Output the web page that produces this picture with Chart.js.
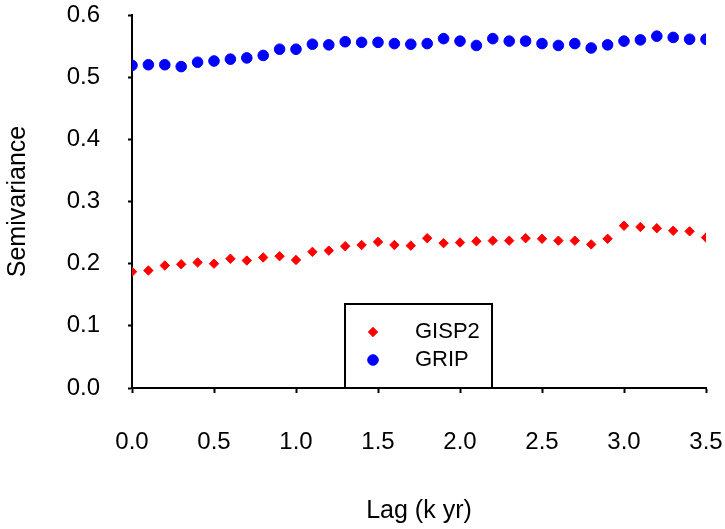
<!DOCTYPE html>
<html>
<head>
<meta charset="utf-8">
<script src="https://cdn.jsdelivr.net/npm/chart.js@4/dist/chart.umd.min.js"></script>
<style>
  html, body { margin: 0; padding: 0; background: #fff; }
  #wrap { width: 725px; height: 529px; }
</style>
</head>
<body>
<div id="wrap"><canvas id="c" width="725" height="529"></canvas></div>
<script>
// Lag in thousands of years
const lag = [0.0, 0.1, 0.2, 0.3, 0.4, 0.5, 0.6, 0.7, 0.8, 0.9,
             1.0, 1.1, 1.2, 1.3, 1.4, 1.5, 1.6, 1.7, 1.8, 1.9,
             2.0, 2.1, 2.2, 2.3, 2.4, 2.5, 2.6, 2.7, 2.8, 2.9,
             3.0, 3.1, 3.2, 3.3, 3.4, 3.5];

// Semivariance of the GISP2 record
const gisp2 = [0.187, 0.189, 0.197, 0.199, 0.202, 0.200, 0.208, 0.205, 0.210, 0.212,
               0.206, 0.219, 0.221, 0.228, 0.230, 0.235, 0.230, 0.229, 0.241, 0.233,
               0.234, 0.236, 0.237, 0.237, 0.241, 0.240, 0.237, 0.237, 0.231, 0.240,
               0.261, 0.259, 0.257, 0.253, 0.252, 0.242];

// Semivariance of the GRIP record
const grip = [0.519, 0.520, 0.520, 0.517, 0.524, 0.526, 0.529, 0.531, 0.535, 0.545,
              0.545, 0.553, 0.552, 0.557, 0.556, 0.556, 0.554, 0.553, 0.554, 0.562,
              0.558, 0.551, 0.562, 0.558, 0.558, 0.554, 0.551, 0.554, 0.547, 0.552,
              0.558, 0.560, 0.566, 0.564, 0.561, 0.561];

const xTickValues = [0.0, 0.5, 1.0, 1.5, 2.0, 2.5, 3.0, 3.5];
const yTickValues = [0.0, 0.1, 0.2, 0.3, 0.4, 0.5, 0.6];

const FONT = '"Liberation Sans", Arial, sans-serif';

const toPoints = (xs, ys) => xs.map((x, i) => ({ x: x, y: ys[i] }));

// Boxed legend sitting on the x axis inside the plot
const boxLegend = {
  id: 'boxLegend',
  afterDraw(chart) {
    const { ctx, chartArea: a } = chart;
    const left = a.left + 213, right = a.left + 360;
    const top = a.top + 289, bottom = a.bottom;
    ctx.save();
    ctx.fillStyle = '#ffffff';
    ctx.fillRect(left, top, right - left, bottom - top);
    ctx.strokeStyle = '#000000';
    ctx.lineWidth = 2;
    ctx.strokeRect(left, top, right - left, bottom - top);
    chart.data.datasets.forEach((ds, i) => {
      const y = top + 28 + i * 28;
      ctx.fillStyle = ds.backgroundColor;
      ctx.strokeStyle = ds.borderColor;
      ctx.lineWidth = ds.borderWidth;
      Chart.helpers.drawPoint(ctx, {
        pointStyle: ds.pointStyle,
        radius: ds.pointRadius,
        rotation: 0,
        borderWidth: ds.borderWidth
      }, left + 28, y);
      ctx.fillStyle = '#000000';
      ctx.font = '22px ' + FONT;
      ctx.textAlign = 'left';
      ctx.textBaseline = 'middle';
      ctx.fillText(ds.label, left + 70, y);
    });
    ctx.restore();
  }
};

new Chart(document.getElementById('c'), {
  type: 'scatter',
  data: {
    datasets: [
      {
        label: 'GISP2',
        data: toPoints(lag, gisp2),
        pointStyle: 'rectRot',
        pointRadius: 4.7,
        borderWidth: 1,
        backgroundColor: '#ff0000',
        borderColor: '#ff0000',
        showLine: false,
        clip: 0
      },
      {
        label: 'GRIP',
        data: toPoints(lag, grip),
        pointStyle: 'circle',
        pointRadius: 5.3,
        borderWidth: 1,
        backgroundColor: '#0000ff',
        borderColor: '#0000ff',
        showLine: false,
        clip: 0
      }
    ]
  },
  options: {
    responsive: false,
    devicePixelRatio: 1,
    animation: false,
    events: [],
    layout: { autoPadding: false, padding: { left: 0, right: 19, top: 15, bottom: 0 } },
    plugins: {
      legend: { display: false },
      tooltip: { enabled: false }
    },
    scales: {
      x: {
        type: 'linear',
        min: 0,
        max: 3.5,
        z: 1,
        afterFit(scale) {
          scale.height = 141;
          scale.paddingLeft = 0;
          scale.paddingRight = 0;
        },
        afterBuildTicks(scale) { scale.ticks = xTickValues.map(v => ({ value: v })); },
        border: { display: true, color: '#000000', width: 2 },
        grid: { display: true, drawOnChartArea: false, drawTicks: true, tickLength: 5, tickColor: '#000000', tickWidth: 2 },
        ticks: {
          padding: 35,
          color: '#000000',
          font: { family: FONT, size: 24 },
          maxRotation: 0,
          callback: v => Number(v).toFixed(1)
        },
        title: {
          display: true,
          text: 'Lag (k yr)',
          color: '#000000',
          font: { family: FONT, size: 25 },
          padding: { top: 0, bottom: 3 }
        }
      },
      y: {
        type: 'linear',
        min: 0,
        max: 0.6,
        z: 1,
        afterFit(scale) {
          scale.width = 132;
          scale.paddingTop = 0;
          scale.paddingBottom = 0;
        },
        afterBuildTicks(scale) { scale.ticks = yTickValues.map(v => ({ value: v })); },
        border: { display: true, color: '#000000', width: 2 },
        grid: { display: true, drawOnChartArea: false, drawTicks: true, tickLength: 4, tickColor: '#000000', tickWidth: 2 },
        ticks: {
          padding: 28,
          color: '#000000',
          font: { family: FONT, size: 24 },
          callback: v => Number(v).toFixed(1)
        },
        title: {
          display: true,
          text: 'Semivariance',
          color: '#000000',
          font: { family: FONT, size: 25 },
          padding: { top: 3, bottom: 0 }
        }
      }
    }
  },
  plugins: [boxLegend]
});
</script>
</body>
</html>
